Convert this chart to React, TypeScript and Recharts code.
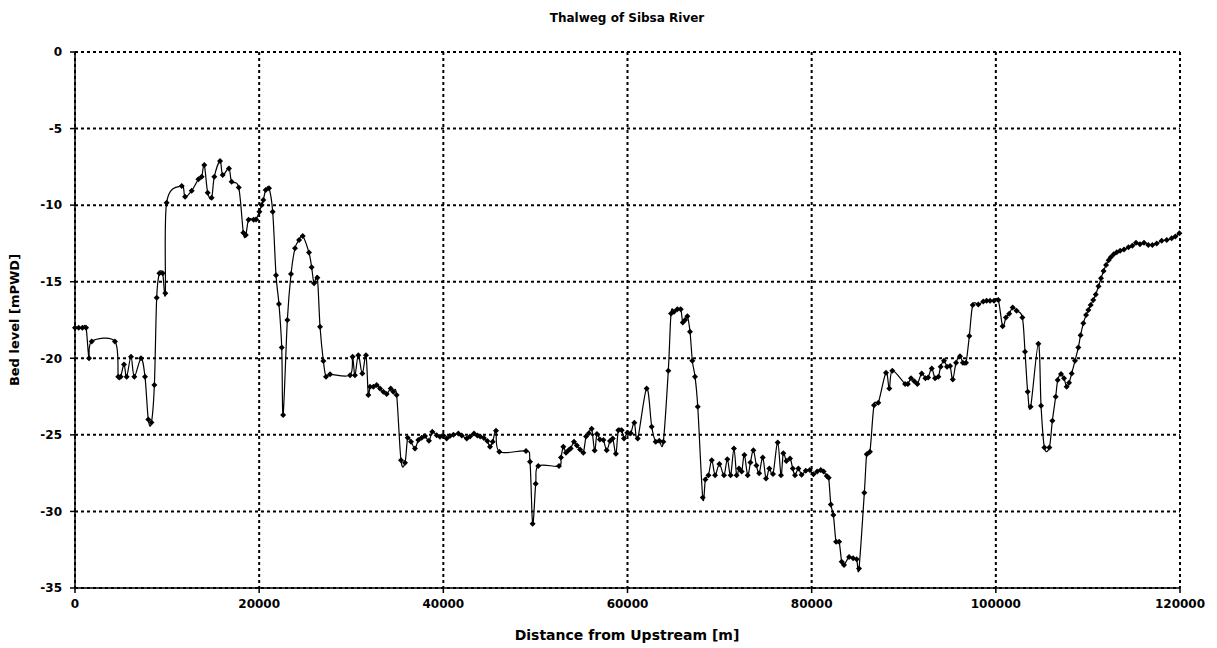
import { LineChart, Line, XAxis, YAxis, CartesianGrid } from 'recharts'

const distance = [
  0, 400, 800, 1200, 1520, 1810, 4340, 4700, 4960, 5320, 5610, 6080, 6440, 7170, 7600, 7960, 8300, 8620, 8870, 9160,
  9520, 9810, 9950, 11590, 11950, 12670, 13400, 13760, 14040, 14410, 14840, 15130, 15750, 16040, 16720, 17010, 17780, 18280, 18550, 18850,
  19400, 19660, 20020, 20270, 20450, 20710, 21070, 21470, 21830, 22150, 22450, 22600, 23060, 23460, 23890, 24330, 24730, 25410, 25700, 25960,
  26320, 26610, 26970, 27260, 27700, 29870, 30150, 30400, 30770, 31200, 31600, 31850, 32040, 32400, 32760, 33120, 33480, 33850, 34280, 34570,
  34930, 35400, 35840, 36130, 36490, 36920, 37280, 37650, 38010, 38440, 38800, 39280, 39640, 40000, 40360, 40720, 41100, 41630, 42000, 42540,
  42900, 43330, 43700, 44000, 44400, 44780, 45070, 45360, 45720, 46080, 48980, 49410, 49700, 50030, 50310, 52560, 52780, 53030, 53320, 53600,
  53830, 54190, 54500, 54850, 55200, 55500, 55800, 56110, 56430, 56680, 57000, 57380, 57740, 58100, 58400, 58740, 59000, 59370, 59620, 59980,
  60350, 60740, 61110, 62080, 62630, 63060, 63450, 63890, 64430, 64730, 65050, 65410, 65780, 66000, 66250, 66500, 66790, 67040, 67330, 67630,
  68170, 68460, 68790, 69150, 69510, 69980, 70480, 70840, 71200, 71560, 71850, 72110, 72400, 72690, 73050, 73350, 73670, 74000, 74300, 74690,
  75040, 75400, 75800, 76310, 76670, 76920, 77250, 77650, 77950, 78190, 78560, 78900, 79360, 79800, 80190, 80600, 80990, 81300, 81640, 81850,
  82080, 82360, 82650, 82980, 83260, 83510, 84060, 84500, 84890, 85140, 85720, 85980, 86330, 86770, 87240, 88070, 88430, 88760, 90140, 90450,
  90790, 91150, 91480, 91950, 92350, 92650, 93040, 93400, 93760, 94010, 94370, 94700, 95030, 95320, 95680, 96110, 96420, 96760, 97120, 97490,
  98100, 98640, 99000, 99370, 99800, 100270, 100740, 101100, 101450, 101830, 102250, 102880, 103170, 103460, 103780, 104620, 104910, 105270, 105810, 106140,
  106500, 106720, 107080, 107400, 107690, 107950, 108240, 108600, 108960, 109200, 109500, 109800, 110050, 110300, 110580, 110850, 111150, 111420, 111700, 111970,
  112250, 112480, 112800, 113130, 113500, 113920, 114400, 114820, 115220, 115650, 116090, 116560, 117000, 117470, 118010, 118560, 119100, 119500, 119930,
]

const bedLevel = [
  -18.0, -18.0, -18.0, -18.0, -20.0, -18.9, -18.9, -21.2, -21.2, -20.4, -21.2, -19.9, -21.2, -20.0, -21.2, -24.0, -24.2, -21.75, -16.05, -14.45,
  -14.45, -15.76, -9.84, -8.75, -9.45, -9.06, -8.31, -8.14, -7.38, -9.19, -9.52, -8.14, -7.12, -8.03, -7.6, -8.47, -8.85, -11.8, -11.95, -10.95,
  -10.95, -10.93, -10.43, -9.99, -9.67, -9.01, -8.9, -10.43, -14.57, -16.46, -19.29, -23.7, -17.5, -14.5, -12.82, -12.28, -12.02, -13.1, -14.06, -15.1,
  -14.74, -17.94, -20.18, -21.2, -21.05, -21.1, -19.9, -21.1, -19.8, -21.0, -19.8, -22.4, -21.86, -21.86, -21.75, -21.97, -22.18, -22.34, -21.97, -22.18,
  -22.4, -26.65, -26.82, -25.19, -25.45, -25.89, -25.34, -25.19, -25.08, -25.39, -24.8, -25.02, -25.12, -25.05, -25.23, -25.08, -25.0, -24.91, -25.05, -25.23,
  -25.1, -24.91, -25.05, -25.1, -25.2, -25.4, -25.78, -25.45, -24.73, -26.1, -26.06, -26.76, -30.8, -28.2, -27.04, -27.04, -26.48, -25.78, -26.17, -26.0,
  -25.89, -25.45, -25.7, -25.95, -26.17, -25.1, -24.9, -24.6, -26.02, -24.95, -25.3, -25.34, -26.0, -25.4, -25.23, -26.23, -24.7, -24.7, -25.23, -24.86,
  -24.9, -24.21, -25.23, -21.97, -24.47, -25.45, -25.39, -25.45, -20.81, -17.07, -16.96, -16.79, -16.79, -17.66, -17.5, -17.25, -18.27, -20.16, -21.2, -23.17,
  -29.09, -27.91, -27.63, -26.65, -27.63, -26.91, -27.63, -26.6, -27.63, -25.89, -27.63, -27.2, -27.4, -26.32, -27.63, -26.8, -26.0, -27.0, -27.5, -26.48,
  -27.85, -27.2, -27.55, -25.5, -27.63, -26.2, -26.7, -26.54, -27.2, -27.63, -27.2, -27.6, -27.35, -27.3, -27.58, -27.4, -27.3, -27.4, -27.69, -27.8,
  -29.54, -30.24, -31.98, -31.98, -33.29, -33.5, -32.97, -33.05, -33.13, -33.72, -28.78, -26.26, -26.1, -23.06, -22.9, -20.94, -21.97, -20.81, -21.68, -21.68,
  -21.31, -21.5, -21.68, -20.99, -21.31, -21.25, -20.66, -21.31, -21.2, -20.55, -20.16, -20.55, -20.51, -21.38, -20.29, -19.86, -20.29, -20.29, -18.55, -16.52,
  -16.48, -16.3, -16.24, -16.24, -16.24, -16.2, -17.9, -17.33, -17.1, -16.68, -16.9, -17.33, -19.57, -22.18, -23.17, -19.05, -23.1, -25.82, -25.82, -24.08,
  -22.51, -21.42, -21.03, -21.3, -21.86, -21.6, -20.99, -20.16, -19.29, -18.5, -17.72, -17.18, -16.85, -16.52, -16.2, -15.83, -15.3, -14.78, -14.3, -13.91,
  -13.6, -13.41, -13.2, -13.08, -12.98, -12.89, -12.75, -12.65, -12.45, -12.55, -12.45, -12.6, -12.6, -12.5, -12.32, -12.28, -12.17, -12.05, -11.84,
]

const xTicks = [0, 20000, 40000, 60000, 80000, 100000, 120000]
const yTicks = [0, -5, -10, -15, -20, -25, -30, -35]

const data = distance.map((x, i) => ({ x, level: bedLevel[i] }))

// Excel-style smoothed line (Catmull-Rom through every point)
const smoothCurve = (context: any) => {
  let pts: number[][] = []
  return {
    areaStart() {},
    areaEnd() {},
    lineStart() { pts = [] },
    lineEnd() {
      const n = pts.length
      if (!n) return
      context.moveTo(pts[0][0], pts[0][1])
      for (let i = 0; i < n - 1; i++) {
        const p0 = pts[i - 1] || pts[i]
        const p1 = pts[i]
        const p2 = pts[i + 1]
        const p3 = pts[i + 2] || p2
        context.bezierCurveTo(
          p1[0] + (p2[0] - p0[0]) / 6, p1[1] + (p2[1] - p0[1]) / 6,
          p2[0] - (p3[0] - p1[0]) / 6, p2[1] - (p3[1] - p1[1]) / 6,
          p2[0], p2[1],
        )
      }
    },
    point(x: number, y: number) { pts.push([+x, +y]) },
  }
}

const Diamond = (props: any) => {
  const { cx, cy } = props
  if (cx == null || cy == null) return null
  const s = 3
  return <polygon points={`${cx},${cy - s} ${cx + s},${cy} ${cx},${cy + s} ${cx - s},${cy}`} fill="#000" />
}

const font = '"DejaVu Sans", Verdana, sans-serif'
const tickStyle = { fontSize: 12, fontWeight: 700, fill: '#000', fontFamily: font }

export default function App() {
  return (
    <div style={{ position: 'absolute', left: 0, top: 0, width: 1217, height: 648, background: '#fff', fontFamily: font }}>
      <div style={{ position: 'absolute', top: 11, left: 0, width: 1254, textAlign: 'center', fontSize: 12, fontWeight: 700 }}>
        Thalweg of Sibsa River
      </div>
      <div style={{ position: 'absolute', top: 627, left: 0, width: 1254, textAlign: 'center', fontSize: 14, fontWeight: 700 }}>
        Distance from Upstream [m]
      </div>
      <div style={{
        position: 'absolute', left: 14, top: 320, fontSize: 13, fontWeight: 700, whiteSpace: 'nowrap',
        transform: 'translate(-50%, -50%) rotate(-90deg)',
      }}>
        Bed level [mPWD]
      </div>
      <LineChart width={1217} height={648} data={data} margin={{ top: 52, right: 37, bottom: 30, left: 15 }}>
        <CartesianGrid stroke="#000" strokeWidth={2} strokeDasharray="3 3" horizontalValues={yTicks} verticalValues={xTicks} />
        <XAxis
          type="number" dataKey="x" domain={[0, 120000]} ticks={xTicks} height={30}
          tick={tickStyle} tickSize={5} tickMargin={6} stroke="#000" strokeWidth={1.5}
          tickLine={{ stroke: '#000' }} interval={0}
        />
        <YAxis
          type="number" domain={[-35, 0]} ticks={yTicks} width={60}
          tick={tickStyle} tickSize={5} tickMargin={8} stroke="#000" strokeWidth={1.5}
          tickLine={{ stroke: '#000' }} interval={0}
        />
        <Line
          dataKey="level" type={smoothCurve as any} stroke="#000" strokeWidth={1.2}
          dot={<Diamond />} activeDot={false} isAnimationActive={false}
        />
      </LineChart>
    </div>
  )
}
